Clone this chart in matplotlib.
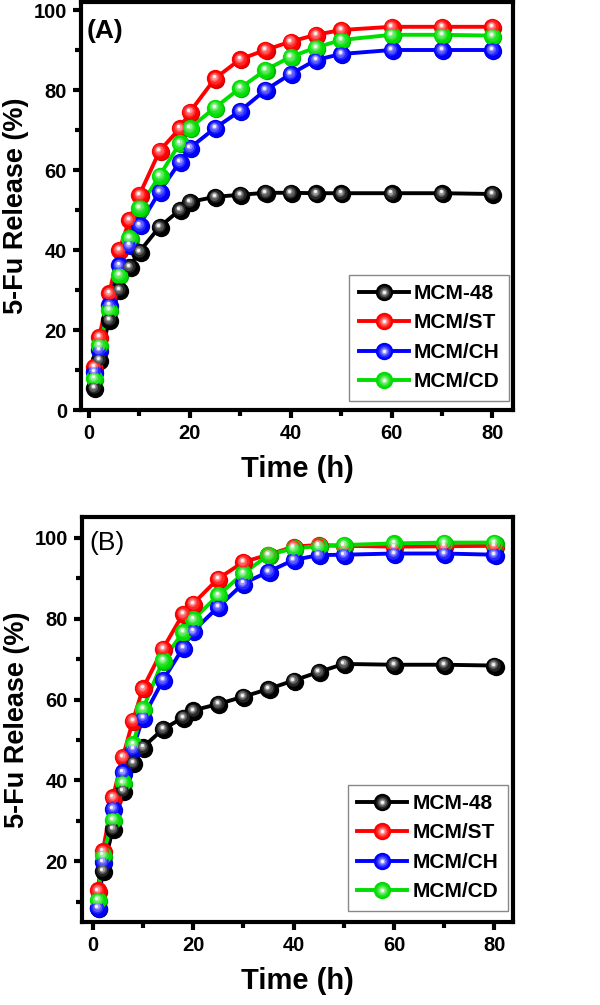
import matplotlib
matplotlib.use("Agg")
import matplotlib.pyplot as plt
from matplotlib.ticker import MultipleLocator
from matplotlib.transforms import offset_copy
from matplotlib.colors import to_rgb

plt.rcParams['font.family'] = ['Liberation Sans', 'DejaVu Sans']

time_h = [1, 2, 4, 6, 8, 10, 14, 18, 20, 25, 30, 35, 40, 45, 50, 60, 70, 80]
series_names = ["MCM-48", "MCM/ST", "MCM/CH", "MCM/CD"]

# Panel (A)
a_mcm48 = [5.5, 12.5, 22.5, 30.0, 35.8, 39.6, 45.8, 50.0, 52.0, 53.3, 53.8, 54.3, 54.3, 54.2, 54.2, 54.2, 54.2, 54.0]
a_st = [10.8, 18.3, 29.2, 40.0, 47.5, 53.8, 64.8, 70.4, 74.5, 82.9, 87.7, 90.0, 92.1, 93.8, 95.0, 95.8, 95.8, 95.8]
a_ch = [9.6, 15.0, 26.2, 36.2, 41.2, 46.2, 54.6, 62.0, 65.5, 70.5, 74.8, 80.0, 84.0, 87.5, 89.0, 90.0, 90.0, 90.0]
a_cd = [7.9, 16.2, 25.0, 33.8, 43.0, 50.6, 58.6, 66.7, 70.5, 75.6, 80.5, 85.0, 88.3, 90.6, 92.5, 93.8, 93.8, 93.6]

# Panel (B)
b_mcm48 = [8.5, 17.7, 28.0, 37.5, 44.3, 48.2, 52.7, 55.5, 57.3, 58.9, 60.7, 62.6, 64.7, 66.8, 68.8, 68.6, 68.6, 68.4]
b_st = [12.8, 22.5, 35.8, 45.8, 54.8, 62.8, 72.6, 81.2, 83.7, 89.9, 94.0, 95.8, 97.8, 98.2, 98.0, 97.8, 97.9, 98.0]
b_ch = [8.5, 19.8, 33.0, 42.0, 47.8, 55.5, 64.8, 72.8, 76.9, 82.9, 88.7, 91.6, 94.5, 95.7, 95.8, 96.1, 96.1, 95.8]
b_cd = [10.5, 21.5, 30.3, 39.5, 48.9, 57.7, 69.7, 76.7, 79.8, 85.8, 91.2, 95.7, 97.4, 97.9, 98.2, 98.6, 98.8, 98.8]

colors = ["#000000", "#ff0000", "#0000ff", "#00dd00"]


def blend(c, f):
    r, g, b = to_rgb(c)
    return (r + (1 - r) * f, g + (1 - g) * f, b + (1 - b) * f)


def shade(c, f):
    r, g, b = to_rgb(c)
    return (r * f, g * f, b * f)


# (size, white-blend fraction, dx, dy) for the shaded-sphere look
sphere_layers = [(9.0, 0.15, -0.4, 0.5), (6.5, 0.35, -0.7, 0.9),
                 (4.3, 0.6, -0.9, 1.2), (2.4, 0.95, -1.0, 1.4)]

fig = plt.figure(figsize=(6.0, 10.05), dpi=100)
ax_a = fig.add_axes([81/600, 1-410/1005, 432/600, 408/1005])
ax_b = fig.add_axes([81.7/600, 1-922/1005, 431.3/600, 405.3/1005])


def draw_panel(ax, data, xlim, ylim, yticks, tag, tag_pos, tag_weight, leg_anchor):
    handles = []
    for vals, c, name in zip(data, colors, series_names):
        ax.plot(time_h, vals, color=c, lw=2.8, zorder=2)
        trs = offset_copy(ax.transData, fig=fig, x=0.8, y=-0.9, units='points')
        ax.plot(time_h, vals, ls='none', marker='o', ms=12.5,
                mfc=shade(c, 0.8), mec='none', transform=trs, zorder=3)
        ax.plot(time_h, vals, ls='none', marker='o', ms=12.5,
                mfc=c, mec='none', zorder=3.05)
        hs = []
        h0, = ax.plot([], [], color=c, lw=2.8, marker='o', ms=12.5, mfc=c, mec='none')
        hs.append(h0)
        for k, (ms, f, dx, dy) in enumerate(sphere_layers):
            tr = offset_copy(ax.transData, fig=fig, x=dx, y=dy, units='points')
            ax.plot(time_h, vals, ls='none', marker='o', ms=ms, mfc=blend(c, f),
                    mec='none', transform=tr, zorder=3.1 + 0.01 * k)
            h, = ax.plot([], [], ls='none', marker='o', ms=ms, mfc=blend(c, f), mec='none')
            hs.append(h)
        handles.append((tuple(hs), name))
    ax.set_xlim(*xlim)
    ax.set_ylim(*ylim)
    ax.set_xticks([0, 20, 40, 60, 80])
    ax.set_yticks(yticks)
    ax.xaxis.set_minor_locator(MultipleLocator(10))
    ax.yaxis.set_minor_locator(MultipleLocator(10))
    for s in ax.spines.values():
        s.set_linewidth(3)
    ax.tick_params(which='major', direction='out', length=6, width=3,
                   labelsize=14.5, pad=4)
    ax.tick_params(which='minor', direction='out', length=4, width=3)
    for lab in ax.get_xticklabels() + ax.get_yticklabels():
        lab.set_fontweight('bold')
    ax.set_xlabel("Time (h)", fontsize=21, fontweight='bold', labelpad=9)
    ax.set_ylabel("5-Fu Release (%)", fontsize=19.5, fontweight='bold')
    ax.yaxis.set_label_coords(-0.121, 0.5)
    ax.text(tag_pos[0], tag_pos[1], tag, transform=ax.transAxes, fontsize=19,
            fontweight=tag_weight, va='top', ha='left')
    leg = ax.legend([h for h, _ in handles], [n for _, n in handles],
                    loc='lower right', bbox_to_anchor=leg_anchor, borderaxespad=0,
                    prop={'weight': 'bold', 'size': 15},
                    handlelength=2.4, handletextpad=0.25, labelspacing=0.5,
                    borderpad=0.45, fancybox=False, framealpha=1,
                    edgecolor='#888888')
    leg.get_frame().set_linewidth(1.0)


draw_panel(ax_a, [a_mcm48, a_st, a_ch, a_cd], (-1.6, 84.1), (0, 102),
           [0, 20, 40, 60, 80, 100], "(A)", (0.012, 0.958), 'bold', (0.991, 0.023))
draw_panel(ax_b, [b_mcm48, b_st, b_ch, b_cd], (-2.2, 83.7), (5, 105.2),
           [20, 40, 60, 80, 100], "(B)", (0.017, 0.964), 'normal', (0.988, 0.028))

fig.savefig("out.png", dpi=100)
